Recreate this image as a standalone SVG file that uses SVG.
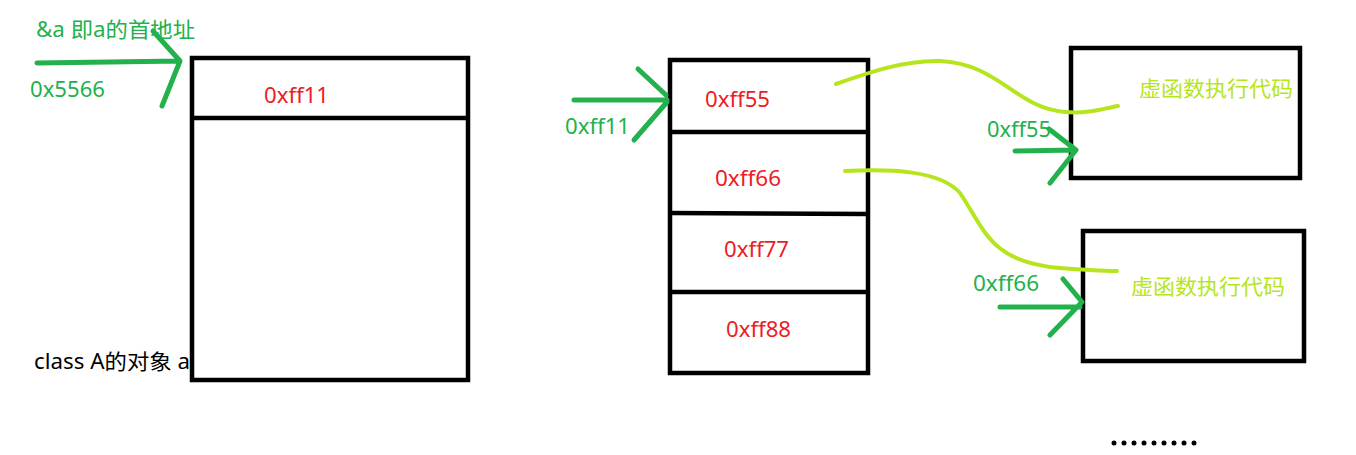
<svg xmlns="http://www.w3.org/2000/svg" width="1356" height="455" viewBox="0 0 1356 455">
<style>
.box{fill:none;stroke:#000;stroke-width:4.5}
.div{stroke:#000;stroke-width:4.5}
.g{fill:none;stroke:#22b14c;stroke-width:5;stroke-linecap:round;stroke-linejoin:round}
.y{fill:none;stroke:#b5e61d;stroke-width:4;stroke-linecap:round}
text{font-family:"Noto Sans","Noto Sans CJK SC",sans-serif;font-size:21px}
.tg{fill:#22b14c}
.tr{fill:#ed1c24}
.ty{fill:#b5e61d}
.tk{fill:#000}
</style>
<rect width="1356" height="455" fill="#fff"/>
<g id="objA">
<rect class="box" x="192" y="58" width="276" height="322"/>
<line class="div" x1="192" y1="118" x2="468" y2="118"/>
<text class="tr" x="264" y="103" textLength="65" lengthAdjust="spacingAndGlyphs">0xff11</text>
<text class="tk" x="34" y="369" textLength="156" lengthAdjust="spacingAndGlyphs">class A的对象 a</text>
</g>
<g id="vtable">
<rect class="box" x="670" y="60" width="198" height="313"/>
<line class="div" x1="670" y1="132" x2="868" y2="132"/>
<line class="div" x1="670" y1="213" x2="868" y2="214"/>
<line class="div" x1="670" y1="292" x2="868" y2="292"/>
<text class="tr" x="705" y="107" textLength="65" lengthAdjust="spacingAndGlyphs">0xff55</text>
<text class="tr" x="715" y="186" textLength="66" lengthAdjust="spacingAndGlyphs">0xff66</text>
<text class="tr" x="724" y="257" textLength="65" lengthAdjust="spacingAndGlyphs">0xff77</text>
<text class="tr" x="726" y="337" textLength="65" lengthAdjust="spacingAndGlyphs">0xff88</text>
</g>
<g id="func1">
<rect class="box" x="1071" y="48" width="229" height="130"/>
<text class="ty" x="1139" y="96" textLength="154" lengthAdjust="spacingAndGlyphs">虚函数执行代码</text>
</g>
<g id="func2">
<rect class="box" x="1083" y="231" width="221" height="130"/>
<text class="ty" x="1131" y="294" textLength="154" lengthAdjust="spacingAndGlyphs">虚函数执行代码</text>
</g>
<g id="labels">
<text class="tg" x="36" y="37" textLength="159" lengthAdjust="spacingAndGlyphs">&amp;a 即a的首地址</text>
<text class="tg" x="30" y="97" textLength="75" lengthAdjust="spacingAndGlyphs">0x5566</text>
<text class="tg" x="565" y="134" textLength="65" lengthAdjust="spacingAndGlyphs">0xff11</text>
<text class="tg" x="987" y="137" textLength="64" lengthAdjust="spacingAndGlyphs">0xff55</text>
<text class="tg" x="973" y="291" textLength="66" lengthAdjust="spacingAndGlyphs">0xff66</text>
</g>
<g id="connectors">
<path class="g" d="M37,63 L110,62 L180,61 M153,31 L180,61 L162,106"/>
<path class="g" d="M574,100 L667,100 M638,69 L666,95 M667,102 L634,140"/>
<path class="g" d="M1015,151 L1076,150 M1049,129 L1076,150 L1050,183"/>
<path class="g" d="M1000,307 L1080,307 M1063,279 L1082,302 L1050,335"/>
<path class="y" d="M836,84 C870,72 905,60 940,61 C1000,64 1015,108 1065,112 C1090,114 1105,108 1118,106"/>
<path class="y" d="M845,171 C890,169 940,170 960,193 C985,230 990,262 1060,268 C1085,270 1100,271 1117,271"/>
</g>
<g id="dots" fill="#000">
<circle cx="1114" cy="443" r="2.5"/>
<circle cx="1124" cy="443" r="2.5"/>
<circle cx="1134" cy="443" r="2.5"/>
<circle cx="1144" cy="443" r="2.5"/>
<circle cx="1154" cy="443" r="2.5"/>
<circle cx="1164" cy="443" r="2.5"/>
<circle cx="1174" cy="443" r="2.5"/>
<circle cx="1184" cy="443" r="2.5"/>
<circle cx="1194" cy="443" r="2.5"/>
</g>
</svg>
